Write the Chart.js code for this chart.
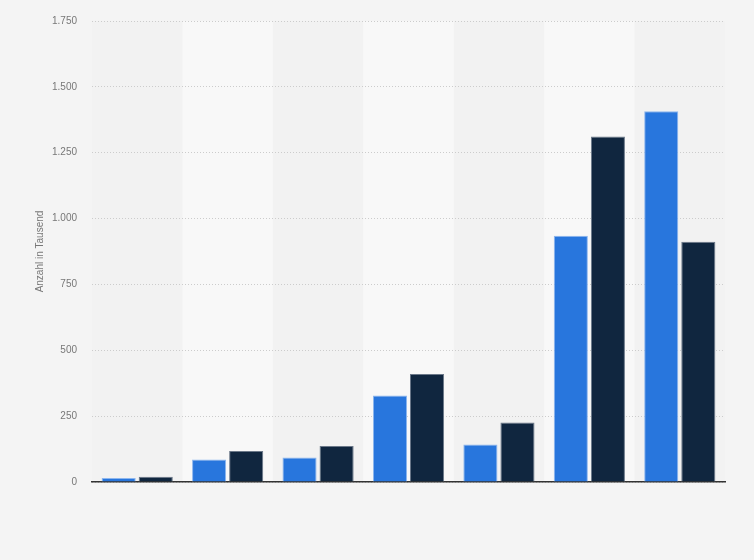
<!DOCTYPE html>
<html>
<head>
<meta charset="utf-8">
<script src="https://cdn.jsdelivr.net/npm/chart.js@4"></script>
<style>
  html, body { margin: 0; padding: 0; background: #f4f4f4; }
  #wrap { width: 754px; height: 560px; }
</style>
</head>
<body>
<div id="wrap"><canvas id="chart" width="754" height="560"></canvas></div>
<script>
// Categories have no visible labels in the reference
const categories = ['1', '2', '3', '4', '5', '6', '7'];
const seriesA = [15, 85, 93, 328, 142, 935, 1407];
const seriesB = [20, 118, 137, 410, 226, 1312, 912];
const yTicks = [0, 250, 500, 750, 1000, 1250, 1500, 1750];

// Alternating light bands behind every second category
const bandPlugin = {
    id: 'bands',
    beforeDraw(chart) {
        const { ctx, chartArea, scales } = chart;
        const x = scales.x;
        const step = x.getPixelForValue(1) - x.getPixelForValue(0);
        ctx.save();
        ctx.fillStyle = '#f2f2f2';
        ctx.fillRect(chartArea.left, chartArea.top, chartArea.right - chartArea.left, chartArea.bottom - chartArea.top);
        ctx.fillStyle = '#f8f8f8';
        categories.forEach((c, i) => {
            if (i % 2 === 1) {
                const cx = x.getPixelForValue(i);
                ctx.fillRect(cx - step / 2, chartArea.top, step, chartArea.bottom - chartArea.top);
            }
        });
        ctx.restore();
    }
};

new Chart(document.getElementById('chart').getContext('2d'), {
    type: 'bar',
    data: {
        labels: categories,
        datasets: [
            {
                data: seriesA,
                backgroundColor: '#2876dd',
                borderColor: '#8db6ee',
                borderWidth: 1,
                barPercentage: 0.92,
                categoryPercentage: 0.82
            },
            {
                data: seriesB,
                backgroundColor: '#10263f',
                borderColor: '#6b7889',
                borderWidth: 1,
                barPercentage: 0.92,
                categoryPercentage: 0.82
            }
        ]
    },
    options: {
        responsive: false,
        animation: false,
        layout: { padding: { left: 34, right: 29, top: 11.5, bottom: 78 } },
        plugins: {
            legend: { display: false },
            tooltip: { enabled: false }
        },
        scales: {
            x: {
                grid: { display: false, drawTicks: false },
                border: { display: true, color: '#333333', width: 1.5 },
                ticks: { display: false }
            },
            y: {
                min: 0,
                max: 1750,
                afterBuildTicks: axis => { axis.ticks = yTicks.map(v => ({ value: v })); },
                afterFit: axis => { axis.width = 58; },
                grid: { color: '#cccccc', drawTicks: false, lineWidth: 1 },
                border: { display: false, dash: [1, 2] },
                ticks: {
                    padding: 15,
                    color: '#777777',
                    font: { family: 'Liberation Sans', size: 10 },
                    callback: v => v.toLocaleString('de-DE')
                },
                title: {
                    display: true,
                    text: 'Anzahl in Tausend',
                    color: '#777777',
                    font: { family: 'Liberation Sans', size: 10 },
                    padding: { top: 0, bottom: 0 }
                }
            }
        }
    },
    plugins: [bandPlugin]
});
</script>
</body>
</html>
